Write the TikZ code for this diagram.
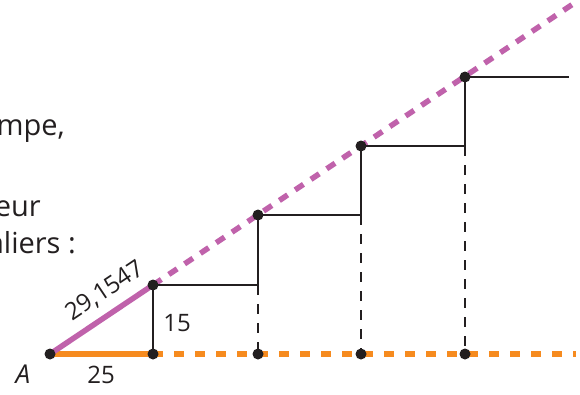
\documentclass[tikz,border=0pt]{standalone}
\usepackage{fontspec}
\setmainfont{Open Sans}
\definecolor{txt}{HTML}{231F20}
\definecolor{purp}{HTML}{C062AB}
\definecolor{orng}{HTML}{F68B1F}
\begin{document}
\begin{tikzpicture}[x=1pt,y=-1pt,
  blk/.style={line width=2.7pt,draw=txt},
  vdash/.style={line width=2.7pt,draw=txt,dash pattern=on 10pt off 9pt},
  purpline/.style={line width=5.5pt,draw=purp},
  orngline/.style={line width=5.5pt,draw=orng},
  dotmark/.style={circle,fill=txt,inner sep=0pt,minimum size=11pt},
  para/.style={font=\fontsize{29}{34}\selectfont,text=txt,anchor=base east,inner sep=0pt},
  lbl/.style={font=\fontsize{24}{28}\selectfont,text=txt,inner sep=0pt}]
\clip (0,0) rectangle (580,394);
\fill[white] (0,0) rectangle (580,394);
% coordinates
\coordinate (A) at (50,354);
\coordinate (B1) at (153,354);
\coordinate (T1) at (153,285);
\coordinate (C2) at (258,285);
\coordinate (T2) at (258,215);
\coordinate (B2) at (258,354);
\coordinate (C3) at (361,215);
\coordinate (T3) at (361,146);
\coordinate (B3) at (361,354);
\coordinate (C4) at (465,146);
\coordinate (T4) at (465,77);
\coordinate (B4) at (465,354);
\coordinate (E) at (569,77);
\coordinate (PE) at (573,4);
\coordinate (OE) at (576,354);
% paragraph fragments
\node[para] (p1) at (65,135) {mpe,};
\node[para] (p2) at (41,216) {eur};
\node[para] (p3) at (76,253) {aliers :};
% orange horizontal
\draw[orngline,dash pattern=on 10pt off 11pt] (B1) -- (OE);
\draw[orngline] (A) -- (B1);
% dashed verticals
\draw[vdash] (C2) -- (B2);
\draw[vdash] (C3) -- (B3);
\draw[vdash] (C4) -- (B4);
% purple hypotenuse
\draw[purpline,dash pattern=on 10pt off 9pt] (T1) -- (PE);
\draw[purpline] (A) -- (T1);
% stairs
\draw[blk] (B1) -- (T1) -- (C2) -- (T2) -- (C3) -- (T3) -- (C4) -- (T4) -- (E);
% dots
\foreach \p in {A,B1,T1,T2,B2,T3,B3,T4,B4} \node[dotmark] at (\p) {};
% labels
\node[lbl,rotate=33.8] (l1) at (105,291) {29,1547};
\node[lbl] (l2) at (177,323) {15};
\node[lbl] (l3) at (101,375) {25};
\node[lbl,font=\fontsize{26}{30}\selectfont\itshape] (lA) at (23,374) {A};
\end{tikzpicture}
\end{document}
